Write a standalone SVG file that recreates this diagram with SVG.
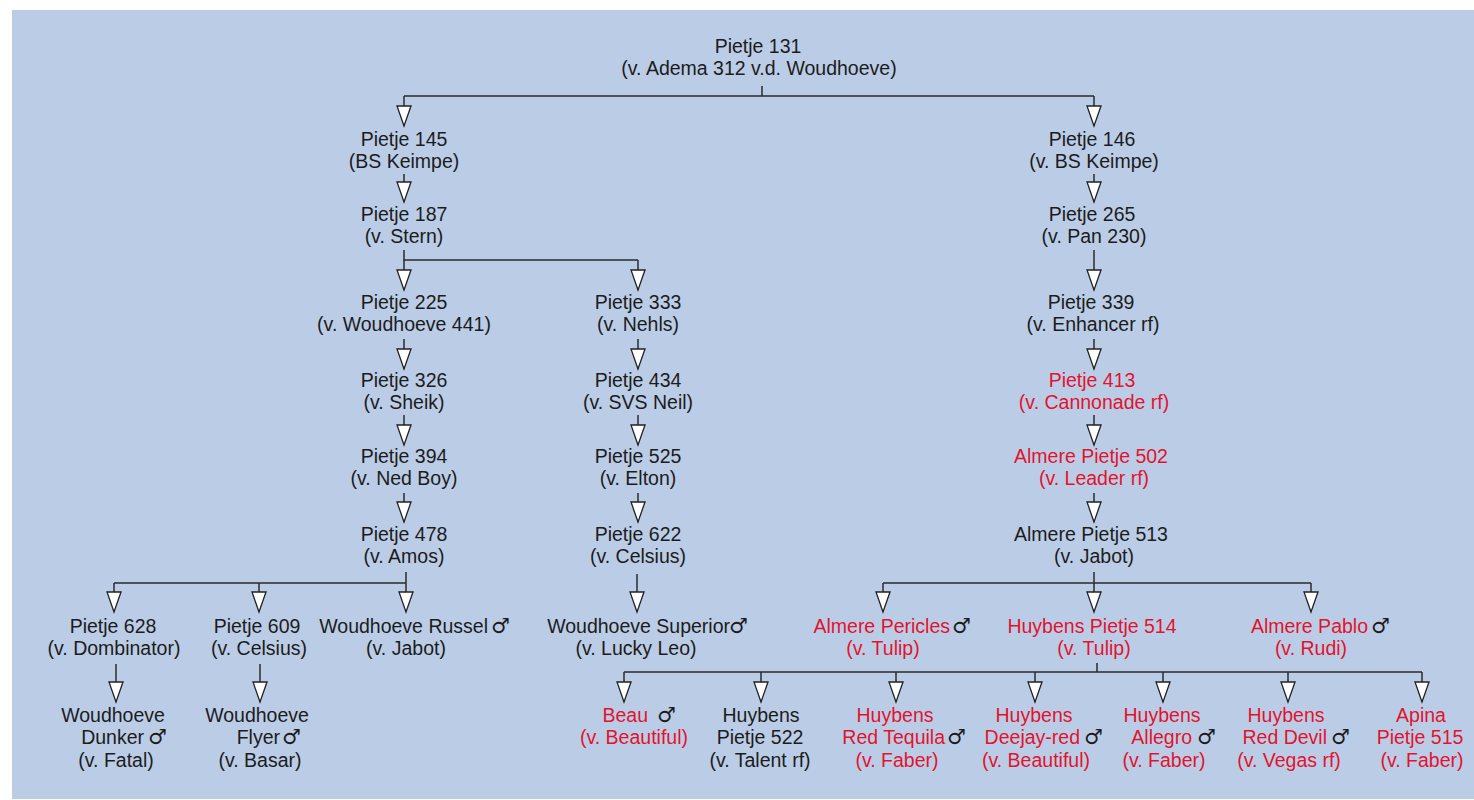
<svg xmlns="http://www.w3.org/2000/svg" width="1474" height="800" viewBox="0 0 1474 800">
<style>
text{font-family:"Liberation Sans",Arial,sans-serif;font-size:19.5px;fill:#1c1c1c;text-anchor:middle}
text.r{fill:#e2132e}
text.e{text-anchor:end}
text.m{font-family:"DejaVu Sans",sans-serif;font-size:21px;fill:#1c1c1c;text-anchor:start}
.c path{fill:none;stroke:#2b2b2b;stroke-width:1.5}
.c path.a{marker-end:url(#tri)}
</style>
<defs>
<marker id="tri" viewBox="-1 -1 23 16" markerWidth="23" markerHeight="16" refX="20" refY="7" orient="auto" markerUnits="userSpaceOnUse">
<path d="M0,0 L20,7 L0,14 Z" fill="#ffffff" stroke="#222" stroke-width="1.3" stroke-linejoin="miter"/>
</marker>
</defs>
<rect x="12" y="10" width="1462" height="789" fill="#bbcde6"/>
<g class="c" id="connectors">
<path d="M762,86 V96 M404,96 H1094"/>
<path class="a" d="M404,96 V126"/>
<path class="a" d="M1094,96 V126"/>
<path class="a" d="M404,174 V202"/>
<path class="a" d="M1094,174 V202"/>
<path d="M404,250 V260 H638"/>
<path class="a" d="M404,260 V290"/>
<path class="a" d="M638,260 V290"/>
<path class="a" d="M1094,250 V290"/>
<path class="a" d="M404,339 V369"/>
<path class="a" d="M638,339 V369"/>
<path class="a" d="M1094,339 V369"/>
<path class="a" d="M404,415 V445"/>
<path class="a" d="M638,415 V445"/>
<path class="a" d="M1094,415 V445"/>
<path class="a" d="M404,493 V522"/>
<path class="a" d="M638,493 V522"/>
<path class="a" d="M1094,493 V522"/>
<path d="M406,572 V583 M114,583 H406"/>
<path class="a" d="M114,583 V612"/>
<path class="a" d="M259,583 V612"/>
<path class="a" d="M406,583 V612"/>
<path class="a" d="M637,574 V612"/>
<path d="M1094,572 V583 M883,583 H1311"/>
<path class="a" d="M883,583 V612"/>
<path class="a" d="M1094,583 V612"/>
<path class="a" d="M1311,583 V612"/>
<path class="a" d="M116,664 V702"/>
<path class="a" d="M260,664 V702"/>
<path d="M1097,663 V672 M624,672 H1422"/>
<path class="a" d="M624,672 V702"/>
<path class="a" d="M761,672 V702"/>
<path class="a" d="M896,672 V702"/>
<path class="a" d="M1035,672 V702"/>
<path class="a" d="M1163,672 V702"/>
<path class="a" d="M1288,672 V702"/>
<path class="a" d="M1422,672 V702"/>
</g>
<g id="n131"><text x="758" y="53">Pietje 131</text><text x="759" y="75">(v. Adema 312 v.d. Woudhoeve)</text></g>
<g id="n145"><text x="404" y="146">Pietje 145</text><text x="404" y="168">(BS Keimpe)</text></g>
<g id="n187"><text x="404" y="221">Pietje 187</text><text x="404" y="243">(v. Stern)</text></g>
<g id="n225"><text x="404" y="309">Pietje 225</text><text x="404" y="331">(v. Woudhoeve 441)</text></g>
<g id="n326"><text x="404" y="387">Pietje 326</text><text x="404" y="409">(v. Sheik)</text></g>
<g id="n394"><text x="404" y="463">Pietje 394</text><text x="404" y="485">(v. Ned Boy)</text></g>
<g id="n478"><text x="404" y="541">Pietje 478</text><text x="404" y="563">(v. Amos)</text></g>
<g id="n333"><text x="638" y="309">Pietje 333</text><text x="638" y="331">(v. Nehls)</text></g>
<g id="n434"><text x="638" y="387">Pietje 434</text><text x="638" y="409">(v. SVS Neil)</text></g>
<g id="n525"><text x="638" y="463">Pietje 525</text><text x="638" y="485">(v. Elton)</text></g>
<g id="n622"><text x="638" y="541">Pietje 622</text><text x="638" y="563">(v. Celsius)</text></g>
<g id="n146"><text x="1092" y="146">Pietje 146</text><text x="1094" y="168">(v. BS Keimpe)</text></g>
<g id="n265"><text x="1092" y="221">Pietje 265</text><text x="1094" y="243">(v. Pan 230)</text></g>
<g id="n339"><text x="1091" y="309">Pietje 339</text><text x="1093" y="331">(v. Enhancer rf)</text></g>
<g id="n413"><text class="r" x="1092" y="387">Pietje 413</text><text class="r" x="1094" y="409">(v. Cannonade rf)</text></g>
<g id="n502"><text class="r" x="1091" y="463">Almere Pietje 502</text><text class="r" x="1094" y="485">(v. Leader rf)</text></g>
<g id="n513"><text x="1091" y="541">Almere Pietje 513</text><text x="1094" y="563">(v. Jabot)</text></g>
<g id="n628"><text x="113" y="633">Pietje 628</text><text x="114" y="655">(v. Dombinator)</text></g>
<g id="n609"><text x="257" y="633">Pietje 609</text><text x="259" y="655">(v. Celsius)</text></g>
<g id="nRussel"><text class="e" x="488" y="633">Woudhoeve Russel</text><text class="m" x="491" y="633">♂</text><text x="406" y="655">(v. Jabot)</text></g>
<g id="nSuperior"><text class="e" x="730" y="633">Woudhoeve Superior</text><text class="m" x="729" y="633">♂</text><text x="636" y="655">(v. Lucky Leo)</text></g>
<g id="nPericles"><text class="r e" x="950" y="633">Almere Pericles</text><text class="m" x="952" y="633">♂</text><text class="r" x="883" y="655">(v. Tulip)</text></g>
<g id="n514"><text class="r" x="1092" y="633">Huybens Pietje 514</text><text class="r" x="1094" y="655">(v. Tulip)</text></g>
<g id="nPablo"><text class="r e" x="1368" y="633">Almere Pablo</text><text class="m" x="1371" y="633">♂</text><text class="r" x="1311" y="655">(v. Rudi)</text></g>
<g id="nDunker"><text x="113" y="722">Woudhoeve</text><text class="e" x="144" y="744">Dunker</text><text class="m" x="148" y="744">♂</text><text x="116" y="767">(v. Fatal)</text></g>
<g id="nFlyer"><text x="257" y="722">Woudhoeve</text><text class="e" x="280" y="744">Flyer</text><text class="m" x="282" y="744">♂</text><text x="260" y="767">(v. Basar)</text></g>
<g id="nBeau"><text class="r e" x="648" y="722">Beau</text><text class="m" x="657" y="722">♂</text><text class="r" x="634" y="744">(v. Beautiful)</text></g>
<g id="n522"><text x="761" y="722">Huybens</text><text x="760" y="744">Pietje 522</text><text x="760" y="767">(v. Talent rf)</text></g>
<g id="nTequila"><text class="r" x="895" y="722">Huybens</text><text class="r e" x="945" y="744">Red Tequila</text><text class="m" x="947" y="744">♂</text><text class="r" x="897" y="767">(v. Faber)</text></g>
<g id="nDeejay"><text class="r" x="1034" y="722">Huybens</text><text class="r e" x="1080" y="744">Deejay-red</text><text class="m" x="1084" y="744">♂</text><text class="r" x="1036" y="767">(v. Beautiful)</text></g>
<g id="nAllegro"><text class="r" x="1162" y="722">Huybens</text><text class="r e" x="1192" y="744">Allegro</text><text class="m" x="1197" y="744">♂</text><text class="r" x="1164" y="767">(v. Faber)</text></g>
<g id="nDevil"><text class="r" x="1286" y="722">Huybens</text><text class="r e" x="1327" y="744">Red Devil</text><text class="m" x="1331" y="744">♂</text><text class="r" x="1289" y="767">(v. Vegas rf)</text></g>
<g id="nApina"><text class="r" x="1421" y="722">Apina</text><text class="r" x="1420" y="744">Pietje 515</text><text class="r" x="1422" y="767">(v. Faber)</text></g>
</svg>
